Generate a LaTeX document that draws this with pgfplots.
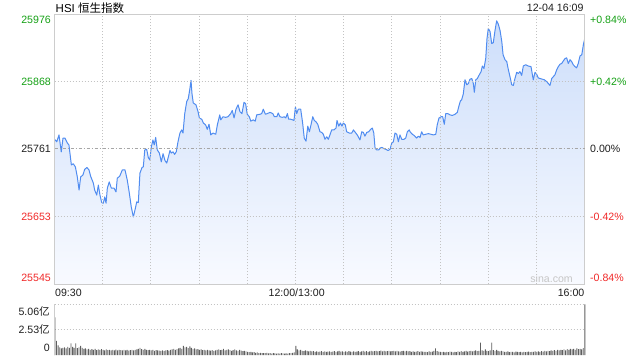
\documentclass[border=0pt]{standalone}
\usepackage{fontspec}
\setmainfont{Liberation Sans}
\newfontfamily\cjk{Noto Sans CJK SC}
\usepackage{pgfplots}
\pgfplotsset{compat=1.18}
\usepackage{pgfplotstable}
\definecolor{upgreen}{RGB}{20,160,20}
\definecolor{downred}{RGB}{240,40,40}
\definecolor{darktxt}{RGB}{30,30,30}
\definecolor{lineblue}{RGB}{80,140,240}
\definecolor{fillTop}{RGB}{205,222,250}
\definecolor{fillBot}{RGB}{248,250,255}
\definecolor{framec}{RGB}{205,205,205}
\definecolor{gridc}{RGB}{195,195,195}
\definecolor{volc}{RGB}{95,95,95}

\pgfplotstableread{
m p
0 25776
1.4 25772
2.8 25783
4.2 25756
5.3 25778
6.5 25778
8.0 25770
9.0 25767
10.5 25735
11.7 25737
13.0 25732
14.2 25716
15.3 25695
16.3 25716
17.7 25719
18.8 25728
20.2 25731
21.5 25727
22.5 25717
24.2 25706
25.0 25695
26.3 25687
27.3 25703
28.3 25687
29.4 25675
30.4 25674
31.3 25684
32.1 25674
32.9 25698
34.1 25708
35.4 25698
37.1 25698
38.3 25692
39.1 25714
40.6 25717
42.2 25727
43.9 25727
45.3 25711
46.6 25690
47.8 25668
49.1 25652
50.1 25663
51.2 25676
52.2 25675
53.2 25722
54.5 25731
55.3 25732
56.2 25759
57.4 25760
58.4 25747
59.3 25743
60.3 25764
61.3 25775
62.1 25767
63.0 25779
64.0 25759
65.3 25754
66.5 25740
67.6 25753
68.8 25742
69.9 25738
70.9 25748
71.9 25758
72.7 25754
73.8 25756
74.8 25752
75.8 25756
76.9 25772
78.1 25786
79.2 25791
80.0 25786
81.1 25817
82.3 25836
83.3 25841
84.2 25855
85.0 25870
85.6 25849
86.4 25834
88.1 25831
89.4 25820
90.2 25810
91.7 25808
92.7 25802
94.1 25799
95.1 25792
96.2 25800
97.3 25783
98.7 25786
100.4 25784
101.4 25799
102.9 25815
103.5 25807
104.9 25812
106.6 25811
108.0 25812
109.7 25817
110.7 25822
111.8 25810
113.0 25824
114.3 25831
115.5 25820
116.7 25817
118.0 25835
119.0 25833
120.0 25816
121.3 25812
122.2 25805
123.8 25807
125.0 25805
125.9 25815
128.0 25816
129.0 25817
130.0 25824
131.3 25816
132.5 25817
134.2 25819
135.9 25817
136.9 25812
138.4 25812
139.3 25818
140.4 25812
141.8 25811
143.1 25812
144.0 25810
145.0 25817
145.8 25808
147.1 25808
148.3 25807
149.1 25806
150.0 25828
150.8 25817
151.8 25824
153.3 25824
154.5 25802
155.5 25778
156.6 25773
157.7 25797
158.7 25788
159.7 25799
160.8 25812
161.8 25806
162.8 25804
163.9 25800
165.3 25788
166.4 25787
167.4 25784
168.4 25776
169.5 25780
170.5 25776
171.5 25783
172.6 25791
174.0 25791
175.3 25794
175.9 25806
177.0 25797
178.0 25802
179.0 25797
179.8 25802
181.1 25799
181.9 25788
183.6 25786
185.1 25786
186.1 25791
187.3 25787
188.5 25783
190.2 25775
191.3 25788
192.3 25787
193.3 25781
194.4 25787
195.6 25788
196.9 25792
197.9 25794
198.8 25786
199.6 25762
200.6 25759
201.9 25759
202.7 25762
203.9 25763
205.2 25761
206.4 25760
207.7 25758
208.9 25760
210.0 25770
211.0 25772
212.0 25786
213.1 25784
214.1 25772
215.1 25783
216.2 25776
217.6 25776
218.7 25778
219.7 25788
220.9 25791
221.4 25788
222.8 25784
224.0 25782
225.5 25778
226.5 25781
227.6 25779
228.6 25788
229.6 25783
231.1 25784
232.8 25785
234.4 25784
235.9 25783
237.4 25784
238.3 25799
239.4 25810
240.7 25812
241.7 25812
242.7 25800
243.6 25817
244.8 25817
246.3 25815
247.7 25814
249.4 25816
250.8 25819
251.9 25830
252.7 25837
253.5 25839
254.5 25848
255.6 25871
256.7 25863
257.7 25865
258.7 25872
259.8 25873
260.8 25865
261.4 25851
262.3 25871
263.3 25873
264.5 25879
265.6 25884
266.4 25893
267.4 25889
268.5 25905
269.3 25937
270.1 25953
271.2 25948
272.2 25929
273.2 25930
274.3 25950
275.3 25965
276.3 25960
277.4 25950
278.5 25932
279.3 25911
280.5 25903
281.6 25900
282.6 25887
283.6 25876
284.7 25863
285.7 25862
286.7 25873
287.8 25883
288.8 25881
289.8 25884
290.9 25878
291.9 25893
293.4 25895
295.0 25893
296.7 25892
298.1 25871
299.2 25883
300.2 25880
301.2 25874
302.3 25873
303.7 25872
305.0 25871
306.5 25868
307.5 25865
308.5 25862
309.6 25873
310.6 25876
311.6 25879
312.7 25887
313.7 25892
314.8 25896
315.8 25897
316.8 25901
317.9 25905
318.9 25906
319.9 25897
321.0 25903
322.0 25900
323.0 25895
324.1 25892
325.1 25890
326.1 25897
327.2 25909
328.3 25911
329.3 25927
330.0 25935
}\price

\pgfplotstableread[row sep=\\]{m v\\
0 3.76\\ 1 1.40\\ 2 0.97\\ 3 0.77\\ 4 0.67\\ 5 0.70\\ 6 0.75\\ 7 0.66\\ 8 0.80\\ 9 0.72\\
10 1.17\\ 11 0.80\\ 12 0.70\\ 13 1.15\\ 14 0.68\\ 15 0.75\\ 16 0.90\\ 17 0.70\\ 18 0.62\\ 19 0.66\\
20 0.55\\ 21 0.60\\ 22 0.50\\ 23 0.58\\ 24 0.52\\ 25 0.60\\ 26 0.48\\ 27 0.55\\ 28 0.50\\ 29 0.58\\
30 0.50\\ 31 0.45\\ 32 0.55\\ 33 0.48\\ 34 0.52\\ 35 0.45\\ 36 0.50\\ 37 0.47\\ 38 0.53\\ 39 0.46\\
40 0.50\\ 41 0.48\\ 42 0.45\\ 43 0.52\\ 44 0.47\\ 45 0.50\\ 46 0.44\\ 47 0.48\\ 48 0.52\\ 49 0.46\\
50 0.50\\ 51 0.55\\ 52 0.62\\ 53 0.70\\ 54 0.58\\ 55 0.52\\ 56 0.60\\ 57 0.50\\ 58 0.48\\ 59 0.52\\
60 0.45\\ 61 0.50\\ 62 0.42\\ 63 0.48\\ 64 0.46\\ 65 0.44\\ 66 0.40\\ 67 0.46\\ 68 0.42\\ 69 0.45\\
70 0.48\\ 71 0.44\\ 72 0.50\\ 73 0.55\\ 74 0.60\\ 75 0.52\\ 76 0.58\\ 77 0.66\\ 78 0.70\\ 79 0.62\\
80 0.90\\ 81 0.75\\ 82 0.80\\ 83 0.68\\ 84 0.85\\ 85 0.72\\ 86 0.60\\ 87 0.65\\ 88 0.55\\ 89 0.58\\
90 0.50\\ 91 0.55\\ 92 0.48\\ 93 0.52\\ 94 0.45\\ 95 0.50\\ 96 0.46\\ 97 0.44\\ 98 0.48\\ 99 0.42\\
100 0.46\\ 101 0.50\\ 102 0.55\\ 103 0.48\\ 104 0.52\\ 105 0.60\\ 106 0.45\\ 107 0.50\\ 108 0.56\\ 109 0.48\\
110 0.42\\ 111 0.48\\ 112 0.55\\ 113 0.45\\ 114 0.40\\ 115 0.50\\ 116 0.44\\ 117 0.38\\ 118 0.42\\ 119 0.36\\
120 0.32\\ 121 0.28\\ 122 0.30\\ 123 0.25\\ 124 0.28\\ 125 0.22\\ 126 0.25\\ 127 0.20\\ 128 0.22\\ 129 0.18\\
130 0.20\\ 131 0.18\\ 132 0.22\\ 133 0.16\\ 134 0.18\\ 135 0.15\\ 136 0.18\\ 137 0.16\\ 138 0.14\\ 139 0.17\\
140 0.15\\ 141 0.18\\ 142 0.16\\ 143 0.14\\ 144 0.17\\ 145 0.15\\ 146 0.18\\ 147 0.20\\ 148 0.22\\ 149 0.25\\
150 0.92\\ 151 0.55\\ 152 0.45\\ 153 0.50\\ 154 0.42\\ 155 0.38\\ 156 0.45\\ 157 0.40\\ 158 0.36\\ 159 0.42\\
160 0.35\\ 161 0.38\\ 162 0.32\\ 163 0.36\\ 164 0.30\\ 165 0.34\\ 166 0.38\\ 167 0.32\\ 168 0.35\\ 169 0.30\\
170 0.33\\ 171 0.36\\ 172 0.30\\ 173 0.34\\ 174 0.38\\ 175 0.32\\ 176 0.35\\ 177 0.40\\ 178 0.33\\ 179 0.36\\
180 0.32\\ 181 0.35\\ 182 0.30\\ 183 0.38\\ 184 0.34\\ 185 0.32\\ 186 0.36\\ 187 0.30\\ 188 0.34\\ 189 0.38\\
190 0.32\\ 191 0.36\\ 192 0.40\\ 193 0.34\\ 194 0.38\\ 195 0.32\\ 196 0.36\\ 197 0.42\\ 198 0.35\\ 199 0.38\\
200 0.40\\ 201 0.35\\ 202 0.38\\ 203 0.44\\ 204 0.36\\ 205 0.40\\ 206 0.35\\ 207 0.38\\ 208 0.42\\ 209 0.36\\
210 0.38\\ 211 0.42\\ 212 0.35\\ 213 0.40\\ 214 0.36\\ 215 0.34\\ 216 0.38\\ 217 0.42\\ 218 0.36\\ 219 0.40\\
220 0.35\\ 221 0.38\\ 222 0.32\\ 223 0.36\\ 224 0.30\\ 225 0.34\\ 226 0.38\\ 227 0.32\\ 228 0.36\\ 229 0.34\\
230 0.30\\ 231 0.32\\ 232 0.28\\ 233 0.35\\ 234 0.30\\ 235 0.33\\ 236 0.40\\ 237 0.67\\ 238 0.38\\ 239 0.34\\
240 0.30\\ 241 0.28\\ 242 0.32\\ 243 0.26\\ 244 0.30\\ 245 0.28\\ 246 0.34\\ 247 0.30\\ 248 0.26\\ 249 0.32\\
250 0.28\\ 251 0.35\\ 252 0.30\\ 253 0.38\\ 254 0.32\\ 255 0.36\\ 256 0.40\\ 257 0.34\\ 258 0.38\\ 259 0.42\\
260 0.36\\ 261 0.40\\ 262 0.45\\ 263 0.38\\ 264 0.42\\ 265 1.23\\ 266 0.45\\ 267 0.40\\ 268 0.55\\ 269 0.42\\
270 0.38\\ 271 0.45\\ 272 1.23\\ 273 0.48\\ 274 0.42\\ 275 0.50\\ 276 0.40\\ 277 0.36\\ 278 0.42\\ 279 0.35\\
280 0.32\\ 281 0.30\\ 282 0.35\\ 283 0.28\\ 284 0.32\\ 285 0.30\\ 286 0.27\\ 287 0.33\\ 288 0.30\\ 289 0.28\\
290 0.30\\ 291 0.26\\ 292 0.32\\ 293 0.28\\ 294 0.30\\ 295 0.34\\ 296 0.28\\ 297 0.32\\ 298 0.30\\ 299 0.35\\
300 0.32\\ 301 0.36\\ 302 0.30\\ 303 0.38\\ 304 0.34\\ 305 0.40\\ 306 0.36\\ 307 0.42\\ 308 0.38\\ 309 0.45\\
310 0.40\\ 311 0.48\\ 312 0.42\\ 313 0.50\\ 314 0.45\\ 315 0.52\\ 316 0.48\\ 317 0.55\\ 318 0.46\\ 319 0.58\\
320 0.50\\ 321 0.62\\ 322 0.55\\ 323 0.60\\ 324 0.52\\ 325 0.65\\ 326 0.58\\ 327 0.62\\ 328 0.55\\ 329 0.68\\
330 5.06\\
}\vol

\begin{document}
\begin{tikzpicture}[font=\fontsize{10.6}{12}\selectfont]
\useasboundingbox (0pt,0pt) rectangle (640pt,360pt);
\begin{axis}[
  at={(54.5pt,76pt)}, anchor=south west,
  width=530pt, height=270pt, scale only axis,
  xmin=0, xmax=330, ymin=25545, ymax=25976,
  scaled ticks=false,
  xtick={30,60,...,300}, ytick={25653,25868},
  extra y ticks={25761},
  extra y tick style={grid style={color=gray!70, line width=0.8pt, dash pattern=on 3pt off 2pt on 1pt off 2pt}},
  xticklabels={}, yticklabels={}, extra y tick labels={},
  major tick length=0pt,
  grid=major,
  grid style={gridc, line width=0.8pt, dash pattern=on 1pt off 2pt},
  axis line style={framec, line width=1pt},
  axis on top,
]
\addplot[draw=none, shading=axis, top color=fillTop, bottom color=fillBot] table[x=m,y=p] {\price} -- (axis cs:330,25545) -- (axis cs:0,25545) -- cycle;
\addplot[lineblue, line width=1pt, line join=round] table[x=m,y=p] {\price};
\end{axis}

\begin{axis}[
  at={(54.5pt,5pt)}, anchor=south west,
  width=530pt, height=50.7pt, scale only axis,
  xmin=0, xmax=330, ymin=0, ymax=5.06,
  scaled ticks=false,
  xtick=\empty, ytick={2.53,5.06}, yticklabels={},
  major tick length=0pt,
  ymajorgrids,
  grid style={gridc, line width=0.8pt, dash pattern=on 1pt off 2pt},
  axis line style={draw=none},
  clip=false,
]
\addplot[ybar, bar width=0.9pt, bar shift=0.4pt, fill=volc, draw=none] table[x=m,y=v] {\vol};
\draw[framec, line width=1pt] (rel axis cs:0,0) -- (rel axis cs:0,1);
\end{axis}

% title
\node[anchor=base west, inner sep=0, font=\fontsize{11.5}{13}\selectfont] at (55.5pt,348pt) {HSI\ {\cjk 恒生指数}};
\node[anchor=base east, inner sep=0, text=darktxt] at (583.7pt,349pt) {12-04 16:09};
% left labels
\node[anchor=east, inner sep=0, text=upgreen] at (51pt,340pt) {25976};
\node[anchor=east, inner sep=0, text=upgreen] at (51pt,278.3pt) {25868};
\node[anchor=east, inner sep=0, text=darktxt] at (51pt,211pt) {25761};
\node[anchor=east, inner sep=0, text=downred] at (51pt,143pt) {25653};
\node[anchor=east, inner sep=0, text=downred] at (51pt,82pt) {25545};
% right labels
\node[anchor=west, inner sep=0, text=upgreen] at (590pt,340pt) {+0.84\%};
\node[anchor=west, inner sep=0, text=upgreen] at (590pt,278.3pt) {+0.42\%};
\node[anchor=west, inner sep=0, text=darktxt] at (590pt,211pt) {0.00\%};
\node[anchor=west, inner sep=0, text=downred] at (590pt,143pt) {-0.42\%};
\node[anchor=west, inner sep=0, text=downred] at (590pt,82pt) {-0.84\%};
% time labels
\node[anchor=west, inner sep=0, text=darktxt] at (55pt,67.3pt) {09:30};
\node[anchor=center, inner sep=0, text=darktxt] at (296.7pt,67.3pt) {12:00/13:00};
\node[anchor=east, inner sep=0, text=darktxt] at (584.5pt,67.3pt) {16:00};
% volume labels
\node[anchor=east, inner sep=0, text=darktxt] at (50pt,49pt) {5.06{\cjk 亿}};
\node[anchor=east, inner sep=0, text=darktxt] at (50pt,31pt) {2.53{\cjk 亿}};
\node[anchor=east, inner sep=0, text=darktxt] at (50pt,11.7pt) {0};
% watermark
\node[anchor=base east, inner sep=0, text=gray!45] at (573pt,77.3pt) {sina.com};
\end{tikzpicture}
\end{document}
